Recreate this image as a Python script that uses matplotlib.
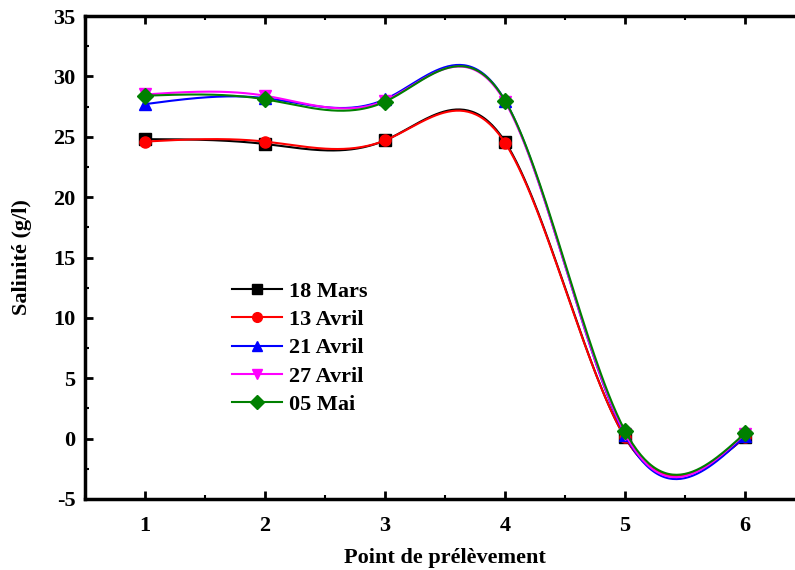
import numpy as np
import matplotlib.pyplot as plt
import matplotlib.ticker as ticker

plt.rcParams['font.family'] = ['Liberation Serif', 'DejaVu Serif']
plt.rcParams['font.weight'] = 'bold'
plt.rcParams['axes.unicode_minus'] = False

# Salinity per sampling point
points = [1, 2, 3, 4, 5, 6]
mars_18 = [24.8, 24.4, 24.7, 24.6, 0.1, 0.1]
avril_13 = [24.6, 24.6, 24.7, 24.5, 0.1, 0.1]
avril_21 = [27.7, 28.2, 28.1, 28.0, 0.3, 0.2]
avril_27 = [28.5, 28.4, 28.0, 27.9, 0.4, 0.4]
mai_05 = [28.4, 28.1, 27.9, 28.0, 0.65, 0.45]

labels = ['18 Mars', '13 Avril', '21 Avril', '27 Avril', '05 Mai']
series = [mars_18, avril_13, avril_21, avril_27, mai_05]
colors = ['black', 'red', 'blue', 'magenta', 'green']
markers = ['s', 'o', '^', 'v', 'D']


def natural_spline(x, y, n=300):
    # natural cubic spline through the points (smooth line like Origin)
    x = np.asarray(x, float)
    y = np.asarray(y, float)
    k = len(x)
    h = np.diff(x)
    A = np.zeros((k, k))
    b = np.zeros(k)
    A[0, 0] = 1
    A[-1, -1] = 1
    for i in range(1, k - 1):
        A[i, i - 1] = h[i - 1]
        A[i, i] = 2 * (h[i - 1] + h[i])
        A[i, i + 1] = h[i]
        b[i] = 6 * ((y[i + 1] - y[i]) / h[i] - (y[i] - y[i - 1]) / h[i - 1])
    m = np.linalg.solve(A, b)
    xs = np.linspace(x[0], x[-1], n)
    idx = np.clip(np.searchsorted(x, xs) - 1, 0, k - 2)
    x0, x1 = x[idx], x[idx + 1]
    hh = x1 - x0
    t0 = x1 - xs
    t1 = xs - x0
    ys = (m[idx] * t0 ** 3 + m[idx + 1] * t1 ** 3) / (6 * hh) \
        + (y[idx] / hh - m[idx] * hh / 6) * t0 \
        + (y[idx + 1] / hh - m[idx + 1] * hh / 6) * t1
    return xs, ys


fig = plt.figure(figsize=(7.95, 5.7), dpi=100)
ax = fig.add_axes([85 / 795, 71 / 570, 720 / 795, 483 / 570])

for vals, lab, c, mk in zip(series, labels, colors, markers):
    xs, ys = natural_spline(points, vals)
    ax.plot(xs, ys, color=c, lw=1.5)
    ax.plot(points, vals, linestyle='none', marker=mk, color=c, markersize=8)
    ax.plot([], [], color=c, lw=1.5, marker=mk, markersize=7, label=lab)

ax.set_xlim(0.5, 6.5)
ax.set_ylim(-5, 35)
ax.set_xticks(points)
ax.set_yticks(np.arange(-5, 36, 5))
ax.xaxis.set_minor_locator(ticker.MultipleLocator(0.5))
ax.yaxis.set_minor_locator(ticker.MultipleLocator(2.5))

ax.tick_params(axis='both', which='major', direction='in', length=6, width=2,
               labelsize=16)
ax.tick_params(axis='x', which='major', pad=12)
ax.tick_params(axis='y', which='major', pad=7)
ax.tick_params(axis='both', which='minor', direction='in', length=3, width=1.5)
ax.tick_params(axis='x', which='both', top=True)
for lab in ax.get_xticklabels() + ax.get_yticklabels():
    lab.set_fontweight('bold')

for s in ax.spines.values():
    s.set_linewidth(2.5)

ax.set_xlabel('Point de prélèvement', fontsize=16, fontweight='bold', labelpad=9)
ax.set_ylabel('Salinité (g/l)', fontsize=16, fontweight='bold', labelpad=15)

ax.legend(loc='upper left', bbox_to_anchor=(0.204, 0.451), frameon=False,
          prop={'size': 16, 'weight': 'bold'}, handlelength=2.25,
          labelspacing=0.35, borderpad=0, borderaxespad=0, handletextpad=0.3)

fig.savefig('out.png', dpi=100)
